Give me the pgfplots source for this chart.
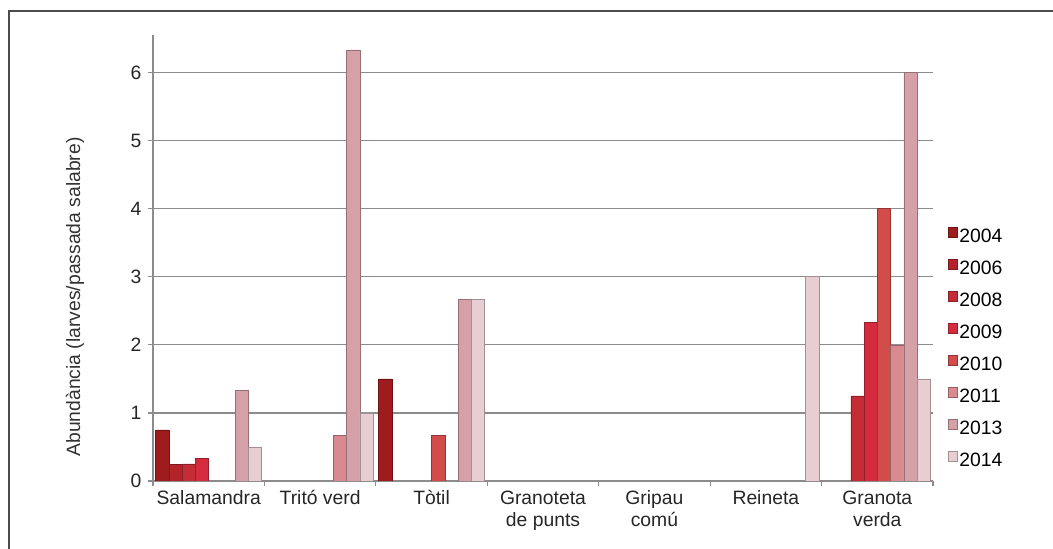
\documentclass[border=0pt]{standalone}
\usepackage{pgfplots}
\pgfplotsset{compat=1.18}
\usepackage{fontspec}
\setmainfont{Liberation Sans}
\definecolor{c2004}{HTML}{9E1B1E}
\definecolor{c2006}{HTML}{B5232A}
\definecolor{c2008}{HTML}{C42D35}
\definecolor{c2009}{HTML}{D42B3E}
\definecolor{c2010}{HTML}{D24C4A}
\definecolor{c2011}{HTML}{D98A90}
\definecolor{c2013}{HTML}{D6A0A8}
\definecolor{c2014}{HTML}{E8CDD3}
\definecolor{gridc}{HTML}{8C8C8C}
\begin{document}
\begin{tikzpicture}
\useasboundingbox (0pt,0pt) rectangle (789.75pt,411.75pt);
\draw[black!70, line width=0.9pt] (6.75pt,-5pt) -- (6.75pt,403.5pt) -- (800pt,403.5pt);
\begin{axis}[
  at={(114.75pt,51pt)}, anchor=south west,
  width=585pt, height=334.5pt, scale only axis,
  xmin=-0.5, xmax=6.5, ymin=0, ymax=6.55,
  ybar=0pt, bar width=0.119,
  xtick={0,...,6},
  xticklabels={Salamandra, Trit\'o verd, T\`otil, {Granoteta\\de punts}, {Gripau\\com\'u}, Reineta, {Granota\\verda}},
  major x tick style={draw=none},
  minor xtick={-0.5,0.5,...,6.5},
  ytick={0,...,6},
  ymajorgrids, grid style={color=gridc, line width=0.9pt},
  axis x line*=bottom, axis y line*=left,
  axis line style={gridc, line width=0.9pt, -},
  tick style={gridc, line width=0.9pt},
  tick align=outside, major tick length=3.75pt, minor tick length=3.75pt,
  xticklabel style={align=center, font=\fontsize{14.5}{16.5}\selectfont, text=black!85},
  yticklabel style={font=\fontsize{14.5}{16.5}\selectfont, text=black!85, xshift=-1.5pt},
  /pgf/number format/assume math mode=true,
  ylabel={Abundància (larves/passada salabre)},
  ylabel style={at={(axis description cs:0,0.4126)}, anchor=center, rotate=0, yshift=58.5pt, font=\fontsize{14.5}{16.5}\selectfont, text=black!80},
  legend style={at={(axis description cs:1.019,0.299)}, anchor=west, draw=none, fill=none,
    font=\fontsize{14.5}{16.5}\selectfont, row sep=11.6pt, inner sep=0pt,
    nodes={inner sep=1pt, text height=10.4pt, text depth=0pt}},
  legend cell align=left,
  legend image code/.code={\draw[#1, line width=0.4pt] (1pt,-1pt) rectangle (8pt,6pt);},
]
\addplot[fill=c2004, draw=c2004!70!black, line width=0.4pt] coordinates {(0,0.75) (2,1.5)};
\addplot[fill=c2006, draw=c2006!70!black, line width=0.4pt] coordinates {(0,0.25)};
\addplot[fill=c2008, draw=c2008!70!black, line width=0.4pt] coordinates {(0,0.25) (6,1.25)};
\addplot[fill=c2009, draw=c2009!70!black, line width=0.4pt] coordinates {(0,0.33) (6,2.33)};
\addplot[fill=c2010, draw=c2010!70!black, line width=0.4pt] coordinates {(2,0.67) (6,4.0)};
\addplot[fill=c2011, draw=c2011!70!black, line width=0.4pt] coordinates {(1,0.67) (6,2.0)};
\addplot[fill=c2013, draw=c2013!70!black, line width=0.4pt] coordinates {(0,1.33) (1,6.33) (2,2.67) (6,6.0)};
\addplot[fill=c2014, draw=c2014!70!black, line width=0.4pt] coordinates {(0,0.5) (1,1.0) (2,2.67) (5,3.0) (6,1.5)};
\legend{2004,2006,2008,2009,2010,2011,2013,2014}
\end{axis}
\end{tikzpicture}
\end{document}
